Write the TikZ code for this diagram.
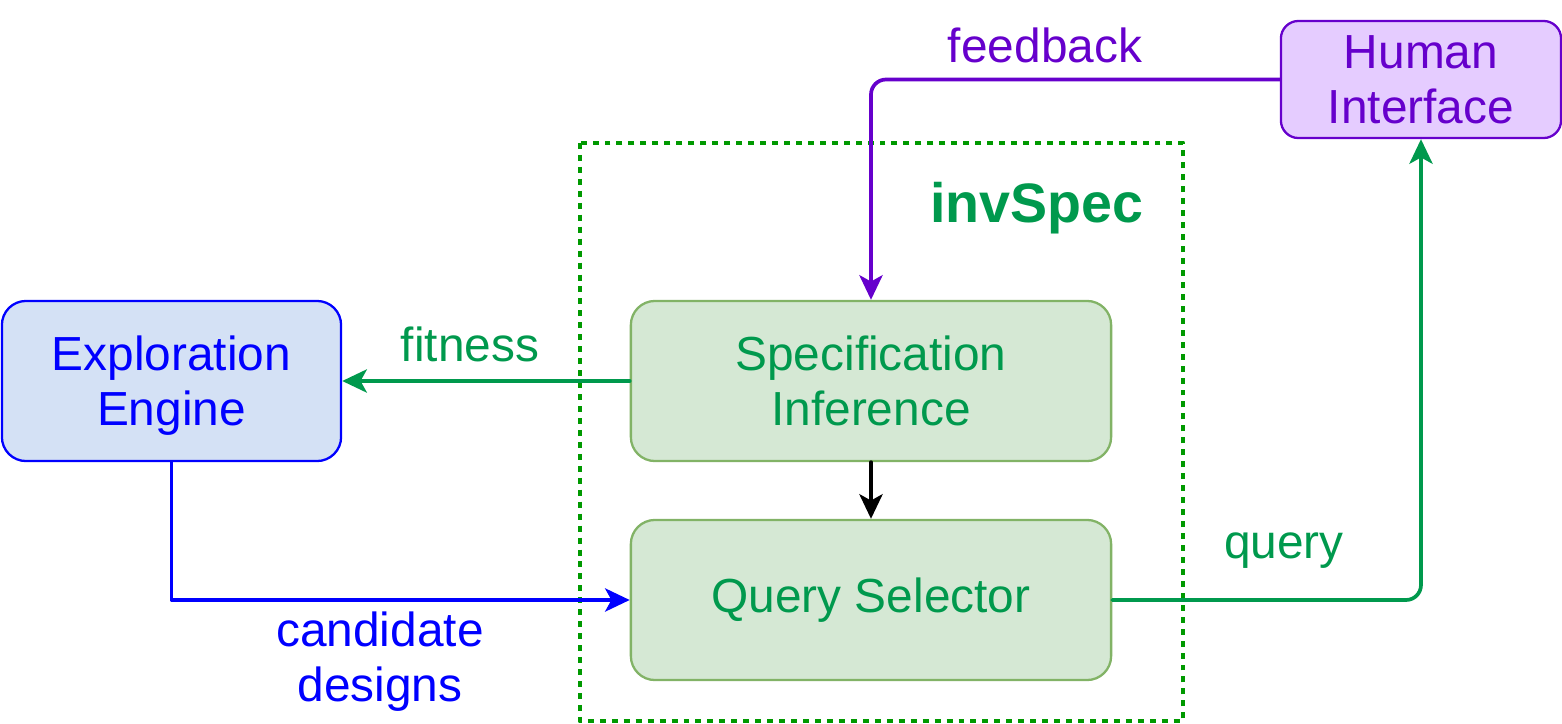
\documentclass[tikz,border=0pt]{standalone}
\usepackage{fontspec}
\setmainfont{Liberation Sans}
\usetikzlibrary{arrows.meta}
\definecolor{engblue}{HTML}{0000FF}
\definecolor{engfill}{HTML}{D4E1F5}
\definecolor{specgreen}{HTML}{00994D}
\definecolor{specfill}{HTML}{D5E8D4}
\definecolor{specline}{HTML}{82B366}
\definecolor{humpurple}{HTML}{6600CC}
\definecolor{humfill}{HTML}{E5CCFF}
\definecolor{groupgreen}{HTML}{009900}

\begin{document}
\begin{tikzpicture}[scale=1,line cap=round,line join=round,>={Stealth[length=7pt,width=6.6pt,inset=1.8pt]},x=0.01cm,y=-0.01cm,
  block/.style={draw,rounded corners=0.24cm,line width=0.65pt,align=center,inner sep=0pt,font=\fontsize{13.6}{15.6}\selectfont},
  lbl/.style={align=center,inner sep=0pt,font=\fontsize{13.6}{15.6}\selectfont},
  conn/.style={->,line width=1.05pt}]
\useasboundingbox (0,0) rectangle (1562,724);
%group invSpec
\draw [line width=1.4pt,color=groupgreen,line cap=butt,dash pattern=on 1.7pt off 1.7pt] (580,143) rectangle (1183,721);
\node[lbl,text=specgreen,font=\fontsize{15.8}{18}\selectfont\bfseries] (title) at (1037,208) {invSpec};
%blocks
\node[block,fill=engfill,draw=engblue,text=engblue,minimum width=3.39cm,minimum height=1.6cm] (explore) at (171.5,381) {Exploration\\\smash{Engine}};
\node[block,fill=specfill,draw=specline,text=specgreen,minimum width=4.8cm,minimum height=1.6cm] (spec) at (871,381) {Specification\\Inference};
\node[block,fill=specfill,draw=specline,text=specgreen,minimum width=4.8cm,minimum height=1.6cm] (select) at (871,600) {Query Selector};
\node[block,fill=humfill,draw=humpurple,text=humpurple,minimum width=2.8cm,minimum height=1.17cm,rounded corners=0.175cm] (human) at (1421,79.5) {Human\\Interface};
%connectors
\draw [conn,color=humpurple,rounded corners=0.15cm] (human.west) -| (spec.north);
\draw [conn,color=specgreen] (spec.west) -- (explore.east);
\draw [conn,color=black] (spec.south) -- (select.north);
\draw [conn,color=engblue] (explore.south) |- (select.west);
\draw [conn,color=specgreen,rounded corners=0.15cm] (select.east) -| (human.south);
%labels
\node[lbl,text=humpurple] (fbtext) at (1045,45) {feedback};
\node[lbl,text=specgreen] (fittext) at (470,344) {fitness};
\node[lbl,text=specgreen] (querytext) at (1284,551) {query};
\node[lbl,text=engblue] (candtext) at (380,662) {candidate\\designs};
\end{tikzpicture}
\end{document}
